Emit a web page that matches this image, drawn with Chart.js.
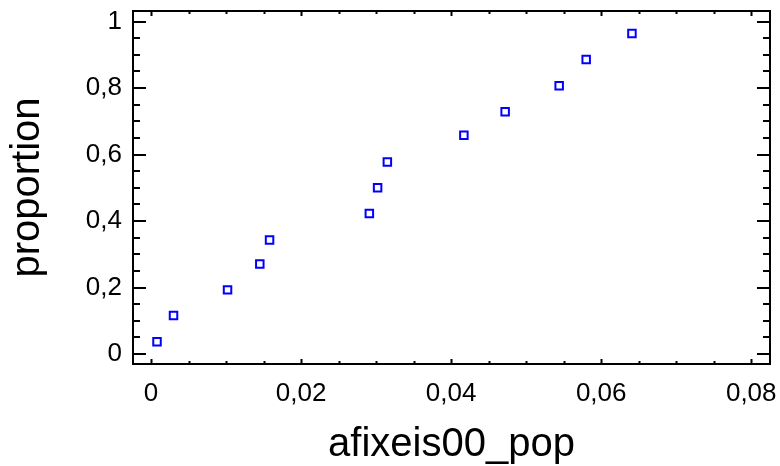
<!DOCTYPE html>
<html>
<head>
<meta charset="utf-8">
<script src="https://cdn.jsdelivr.net/npm/chart.js@4"></script>
<style>
  html, body { margin: 0; padding: 0; background: #fff; }
  #wrap { width: 780px; height: 466px; }
</style>
</head>
<body>
<div id="wrap"><canvas id="chart_proportion"></canvas></div>
<script>
// values
var xValues = [0.0008, 0.0030, 0.0102, 0.0145, 0.0158, 0.0291, 0.0302, 0.0315, 0.0417, 0.0472, 0.0544, 0.0580, 0.0641];
var yValues = [0.037, 0.116, 0.193, 0.271, 0.343, 0.423, 0.500, 0.578, 0.658, 0.729, 0.807, 0.886, 0.964];
var xTicks = [0, 0.02, 0.04, 0.06, 0.08];
var yTicks = [0, 0.2, 0.4, 0.6, 0.8, 1];

var fontFamily = "'Liberation Sans', Arial, sans-serif";

function commaLabel(value) {
    return String(Math.round(value * 1000) / 1000).replace('.', ',');
}

function noLabelPadding(scale) {
    scale.paddingLeft = 0;
    scale.paddingRight = 0;
    scale.paddingTop = 0;
    scale.paddingBottom = 0;
}

var framePlugin = {
    id: 'frameTicks',
    beforeDatasetsDraw: (chart) => {
        const ctx = chart.ctx;
        const a = chart.chartArea;
        const xs = chart.scales.x;
        const ys = chart.scales.y;
        ctx.save();
        ctx.strokeStyle = '#000';
        ctx.lineWidth = 2;
        ctx.beginPath();
        // x ticks, bottom and top, pointing inward
        for (let i = 0; i <= 16; i++) {
            const v = i * 0.005;
            const px = Math.round(xs.getPixelForValue(v)) + 0.5;
            const len = (i % 4 === 0) ? 5 : 3;
            ctx.moveTo(px, a.bottom);
            ctx.lineTo(px, a.bottom - len);
            ctx.moveTo(px, a.top);
            ctx.lineTo(px, a.top + len);
        }
        // y ticks, left and right
        for (let i = 0; i <= 20; i++) {
            const v = i * 0.05;
            const py = Math.round(ys.getPixelForValue(v));
            const len = (i % 4 === 0) ? 13 : 7;
            ctx.moveTo(a.left, py);
            ctx.lineTo(a.left + len, py);
            ctx.moveTo(a.right, py);
            ctx.lineTo(a.right - len, py);
        }
        ctx.stroke();
        ctx.strokeRect(a.left, a.top, a.right - a.left, a.bottom - a.top);
        ctx.restore();
    }
};

var chart_proportion = new Chart(document.getElementById('chart_proportion'), {
    type: 'scatter',
    data: {
        datasets: [{
            label: 'proportion',
            data: xValues.map((x, i) => ({x: x, y: yValues[i]})),
            pointStyle: 'rect',
            pointRadius: 5.3,
            pointHoverRadius: 5.3,
            pointBorderWidth: 2,
            borderColor: '#0000ff',
            backgroundColor: '#ffffff',
            clip: false
        }]
    },
    options: {
        animation: false,
        responsive: true,
        maintainAspectRatio: false,
        events: [],
        layout: {
            padding: {left: 0, right: 10, top: 11, bottom: 0}
        },
        plugins: {
            legend: {display: false},
            tooltip: {enabled: false}
        },
        scales: {
            x: {
                type: 'linear',
                min: -0.0024,
                max: 0.0825,
                afterBuildTicks: (scale) => {
                    scale.ticks = xTicks.map(v => ({value: v}));
                },
                afterFit: (scale) => {
                    scale.height = 102;
                    noLabelPadding(scale);
                },
                grid: {display: false, drawTicks: false},
                border: {display: false},
                ticks: {
                    padding: 14,
                    color: '#000',
                    maxRotation: 0,
                    autoSkip: false,
                    font: {family: fontFamily, size: 26},
                    callback: function(value) { return commaLabel(value); }
                },
                title: {
                    display: true,
                    text: 'afixeis00_pop',
                    color: '#000',
                    padding: {top: 0, bottom: 1},
                    font: {family: fontFamily, size: 40, lineHeight: 1}
                }
            },
            y: {
                type: 'linear',
                min: -0.03,
                max: 1.032,
                afterBuildTicks: (scale) => {
                    scale.ticks = yTicks.map(v => ({value: v}));
                },
                afterFit: (scale) => {
                    scale.width = 133;
                    noLabelPadding(scale);
                },
                grid: {display: false, drawTicks: false},
                border: {display: false},
                ticks: {
                    padding: 11,
                    color: '#000',
                    autoSkip: false,
                    font: {family: fontFamily, size: 26},
                    callback: function(value) { return commaLabel(value); }
                },
                title: {
                    display: true,
                    text: 'proportion',
                    color: '#000',
                    padding: {top: 8, bottom: 0},
                    font: {family: fontFamily, size: 40, lineHeight: 1}
                }
            }
        }
    },
    plugins: [framePlugin, {
        id: 'whiteBackground',
        beforeDraw: (chart) => {
            const ctx = chart.canvas.getContext('2d');
            ctx.save();
            ctx.globalCompositeOperation = 'destination-over';
            ctx.fillStyle = 'white';
            ctx.fillRect(0, 0, chart.canvas.width, chart.canvas.height);
            ctx.restore();
        }
    }]
});
</script>
</body>
</html>
